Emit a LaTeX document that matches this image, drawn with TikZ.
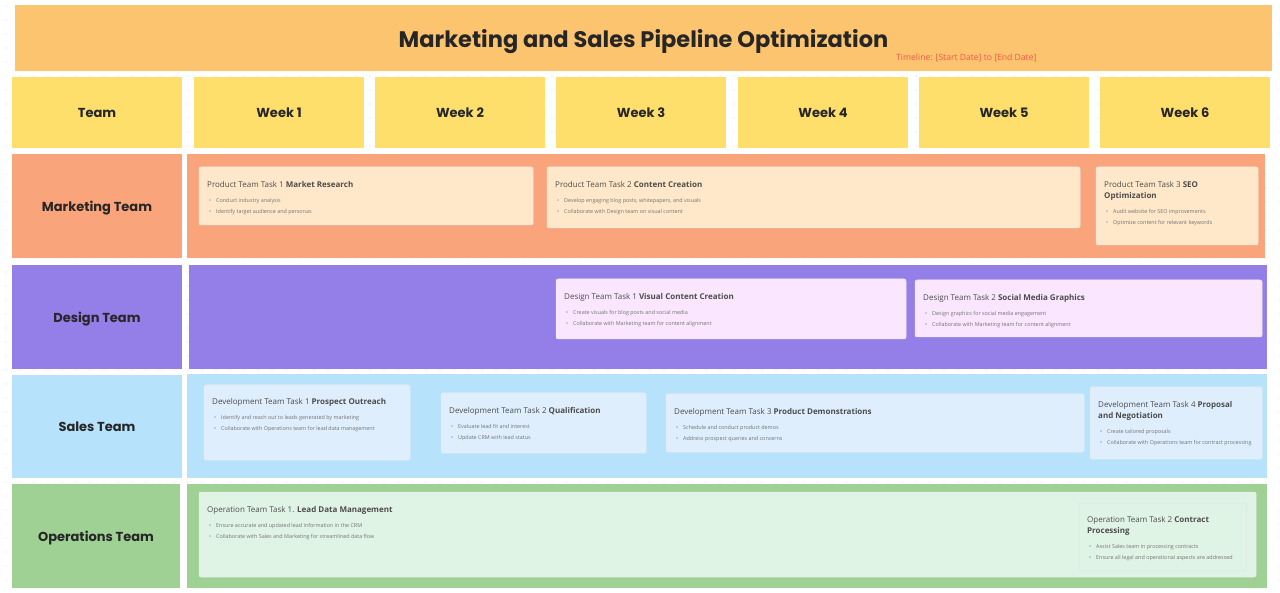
\documentclass[tikz,border=0pt]{standalone}
\usepackage{fontspec}
\setmainfont{Open Sans}
\newfontfamily\popfont{Poppins}
\usetikzlibrary{positioning,calc}
\definecolor{bannerbg}{HTML}{FDC46F}
\definecolor{headbg}{HTML}{FEDF6C}
\definecolor{mktbg}{HTML}{F9A47B}
\definecolor{mktcard}{HTML}{FFE8CA}
\definecolor{dsgbg}{HTML}{947EE8}
\definecolor{dsgcard}{HTML}{FAE6FE}
\definecolor{salbg}{HTML}{B7E2FC}
\definecolor{salcard}{HTML}{DFEEFD}
\definecolor{opsbg}{HTML}{9FD094}
\definecolor{opscard}{HTML}{E0F4E6}
\definecolor{dotgray}{HTML}{D6D6D6}
\definecolor{dotblue}{HTML}{4B82DA}
\definecolor{timered}{HTML}{F2574A}
\newcommand{\itm}{\textcolor{dotblue}{\textbullet}\hspace{5pt}}
\tikzset{
  cell/.style={
    inner sep = 0pt,
    outer sep = 0pt,
    anchor = north west,
    text depth = 0pt,
    text = black!85,
    font = \popfont\bfseries\fontsize{13}{15}\selectfont
  },
  band/.style={
    inner sep = 0pt,
    outer sep = 0pt,
    anchor = north west
  },
  card/.style={
    inner sep = 0pt,
    outer sep = 0pt,
    anchor = north west,
    rounded corners = 2pt,
    draw = black!7,
    line width = 0.5pt
  },
  ttl/.style={
    inner sep = 0pt,
    anchor = north west,
    align = left,
    text depth = 2pt,
    text = black!70,
    font = \fontsize{8}{11}\selectfont
  },
  blt/.style={
    inner sep = 0pt,
    align = left,
    text = black!55,
    font = \fontsize{5.4}{11}\selectfont
  },
}
\begin{document}
\begin{tikzpicture}[x=1pt,y=-1pt]
\useasboundingbox (0,0) rectangle (1280,593);
% dotted canvas
\foreach \i in {0,...,91}
  \foreach \j in {0,...,42}
    \fill[dotgray] (\i*14+6,\j*14+6) circle (0.6pt);
% banner
\node[band, fill=bannerbg, minimum width=1257, minimum height=66, text depth=0pt,
  font=\popfont\bfseries\fontsize{22.5}{26}\selectfont, text=black!85] (banner) at (15,5)
  {Marketing and Sales Pipeline Optimization};
\node[anchor=west, inner sep=0pt, text=timered, font=\fontsize{8.6}{10}\selectfont] (timeline) at (896,58)
  {Timeline: [Start Date] to [End Date]};
% header row
\node[cell, fill=headbg, minimum width=170, minimum height=71] (team) at (12,77) {Team};
\foreach \i/\x in {1/194,2/375,3/556,4/738,5/919,6/1100}
  \node[cell, fill=headbg, minimum width=170, minimum height=71] (week\i) at (\x,77) {Week \i};
% team cells
\node[cell, fill=mktbg, minimum width=170, minimum height=104] (mkt) at (12,154) {Marketing Team};
\node[cell, fill=dsgbg, minimum width=170, minimum height=104] (dsg) at (12,265) {Design Team};
\node[cell, fill=salbg, minimum width=170, minimum height=103] (sal) at (12,375) {Sales Team};
\node[cell, fill=opsbg, minimum width=168, minimum height=104] (ops) at (12,484) {Operations Team};
% bands
\node[band, fill=mktbg, minimum width=1078, minimum height=104] (mktband) at (187,154) {};
\node[band, fill=dsgbg, minimum width=1078, minimum height=104] (dsgband) at (189,265) {};
\node[band, fill=salbg, minimum width=1080, minimum height=104] (salband) at (187,374) {};
\node[band, fill=opsbg, minimum width=1080, minimum height=104] (opsband) at (187,484) {};

% marketing
\node[card, fill=mktcard, minimum width=334, minimum height=58] (m1) at (199,167) {};
\node[ttl] (m1t) at ($(m1.north west)+(8,14)$) {Product Team Task 1 \textbf{Market Research}};
\node[blt, below=9pt of m1t.south west, anchor=north west, xshift=2pt] (m1b)
  {\itm Conduct industry analysis\\ \itm Identify target audience and personas};
\node[card, fill=mktcard, minimum width=533, minimum height=61] (m2) at (547,167) {};
\node[ttl] (m2t) at ($(m2.north west)+(8,14)$) {Product Team Task 2 \textbf{Content Creation}};
\node[blt, below=9pt of m2t.south west, anchor=north west, xshift=2pt] (m2b)
  {\itm Develop engaging blog posts, whitepapers, and visuals\\ \itm Collaborate with Design team on visual content};
\node[card, fill=mktcard, minimum width=162, minimum height=78] (m3) at (1096,167) {};
\node[ttl] (m3t) at ($(m3.north west)+(8,14)$) {Product Team Task 3 \textbf{SEO}\\\textbf{Optimization}};
\node[blt, below=9pt of m3t.south west, anchor=north west, xshift=2pt] (m3b)
  {\itm Audit website for SEO improvements\\ \itm Optimize content for relevant keywords};

% design
\node[card, fill=dsgcard, minimum width=350, minimum height=60] (d1) at (556,279) {};
\node[ttl] (d1t) at ($(d1.north west)+(8,14)$) {Design Team Task 1 \textbf{Visual Content Creation}};
\node[blt, below=9pt of d1t.south west, anchor=north west, xshift=2pt] (d1b)
  {\itm Create visuals for blog posts and social media\\ \itm Collaborate with Marketing team for content alignment};
\node[card, fill=dsgcard, minimum width=347, minimum height=57] (d2) at (915,280) {};
\node[ttl] (d2t) at ($(d2.north west)+(8,14)$) {Design Team Task 2 \textbf{Social Media Graphics}};
\node[blt, below=9pt of d2t.south west, anchor=north west, xshift=2pt] (d2b)
  {\itm Design graphics for social media engagement\\ \itm Collaborate with Marketing team for content alignment};

% sales
\node[card, fill=salcard, minimum width=206, minimum height=75] (s1) at (204,385) {};
\node[ttl] (s1t) at ($(s1.north west)+(8,13)$) {Development Team Task 1 \textbf{Prospect Outreach}};
\node[blt, below=9pt of s1t.south west, anchor=north west, xshift=2pt] (s1b)
  {\itm Identify and reach out to leads generated by marketing\\ \itm Collaborate with Operations team for lead data management};
\node[card, fill=salcard, minimum width=205, minimum height=60] (s2) at (441,393) {};
\node[ttl] (s2t) at ($(s2.north west)+(8,14)$) {Development Team Task 2 \textbf{Qualification}};
\node[blt, below=9pt of s2t.south west, anchor=north west, xshift=2pt] (s2b)
  {\itm Evaluate lead fit and interest\\ \itm Update CRM with lead status};
\node[card, fill=salcard, minimum width=418, minimum height=58] (s3) at (666,394) {};
\node[ttl] (s3t) at ($(s3.north west)+(8,14)$) {Development Team Task 3 \textbf{Product Demonstrations}};
\node[blt, below=9pt of s3t.south west, anchor=north west, xshift=2pt] (s3b)
  {\itm Schedule and conduct product demos\\ \itm Address prospect queries and concerns};
\node[card, fill=salcard, minimum width=172, minimum height=72] (s4) at (1090,387) {};
\node[ttl] (s4t) at ($(s4.north west)+(8,14)$) {Development Team Task 4 \textbf{Proposal}\\\textbf{and Negotiation}};
\node[blt, below=9pt of s4t.south west, anchor=north west, xshift=2pt] (s4b)
  {\itm Create tailored proposals\\ \itm Collaborate with Operations team for contract processing};

% operations
\node[card, fill=opscard, minimum width=1057, minimum height=85] (o1) at (199,492) {};
\node[ttl] (o1t) at ($(o1.north west)+(8,14)$) {Operation Team Task 1. \textbf{Lead Data Management}};
\node[blt, below=9pt of o1t.south west, anchor=north west, xshift=2pt] (o1b)
  {\itm Ensure accurate and updated lead information in the CRM\\ \itm Collaborate with Sales and Marketing for streamlined data flow};
\node[card, fill=opscard, draw=black!12, minimum width=167, minimum height=67] (o2) at (1079,503) {};
\node[ttl] (o2t) at ($(o2.north west)+(8,13)$) {Operation Team Task 2 \textbf{Contract}\\\textbf{Processing}};
\node[blt, below=9pt of o2t.south west, anchor=north west, xshift=2pt] (o2b)
  {\itm Assist Sales team in processing contracts\\ \itm Ensure all legal and operational aspects are addressed};
\end{tikzpicture}
\end{document}
